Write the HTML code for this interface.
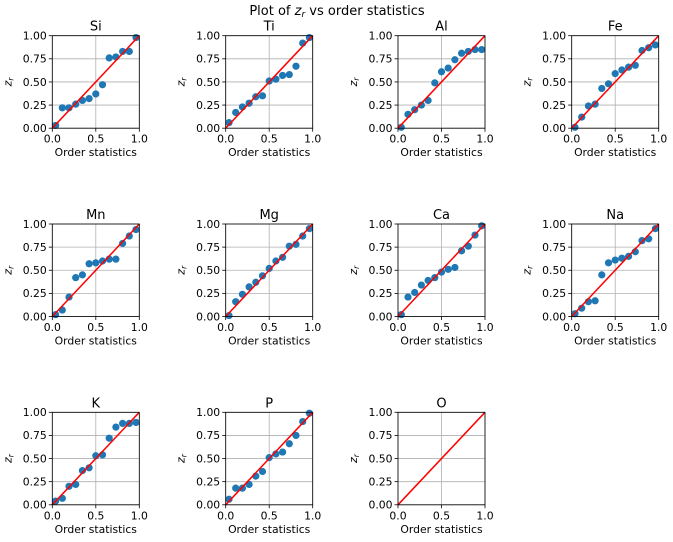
<!DOCTYPE html>
<html><head><meta charset="utf-8"><style>
html,body{margin:0;padding:0;background:#fff;}
svg{display:block;font-family:"DejaVu Sans","Liberation Sans",sans-serif;}
</style></head><body>
<svg id="fig" width="673" height="542" viewBox="0 0 673 542">
<text x="337" y="15" text-anchor="middle" font-size="13">Plot of <tspan font-style="italic">z</tspan><tspan font-style="italic" font-size="9" dy="2">r</tspan><tspan dy="-2"> vs order statistics</tspan></text>
</svg>
<script>
const panelNames = ["Si","Ti","Al","Fe","Mn","Mg","Ca","Na","K","P","O"];
const orderX = [0.038,0.115,0.192,0.269,0.346,0.423,0.5,0.577,0.654,0.731,0.808,0.885,0.962];
const siVals = [0.03,0.22,0.22,0.26,0.30,0.32,0.37,0.47,0.76,0.77,0.83,0.83,0.98];
const tiVals = [0.06,0.17,0.23,0.27,0.34,0.35,0.51,0.53,0.57,0.58,0.67,0.92,0.98];
const alVals = [0.01,0.15,0.20,0.25,0.30,0.49,0.61,0.65,0.74,0.81,0.83,0.85,0.85];
const feVals = [0.01,0.12,0.24,0.26,0.43,0.48,0.59,0.63,0.66,0.68,0.84,0.87,0.90];
const mnVals = [0.02,0.07,0.21,0.42,0.45,0.57,0.58,0.60,0.62,0.62,0.79,0.87,0.94];
const mgVals = [0.01,0.16,0.24,0.32,0.37,0.44,0.52,0.60,0.64,0.76,0.78,0.87,0.95];
const caVals = [0.02,0.21,0.26,0.34,0.39,0.42,0.48,0.51,0.53,0.71,0.76,0.88,0.98];
const naVals = [0.03,0.09,0.16,0.17,0.45,0.58,0.61,0.63,0.65,0.70,0.82,0.84,0.95];
const kVals  = [0.04,0.07,0.20,0.22,0.37,0.40,0.53,0.54,0.72,0.84,0.88,0.88,0.89];
const pVals  = [0.06,0.18,0.18,0.22,0.31,0.36,0.51,0.55,0.57,0.66,0.75,0.90,0.99];
const oVals  = [];
const xTickVals = [0,0.5,1];
const xTickLabels = ["0.0","0.5","1.0"];
const yTickVals = [0,0.25,0.5,0.75,1];
const yTickLabels = ["0.00","0.25","0.50","0.75","1.00"];

const series = [siVals,tiVals,alVals,feVals,mnVals,mgVals,caVals,naVals,kVals,pVals,oVals];
const colLeft = [52.3,225.7,398,571.7];
const rowTop = [35.7,224,412.3];
const W = 87, H = 92.5;
const NS = "http://www.w3.org/2000/svg";
const svg = document.getElementById("fig");
function mk(tag, attrs, parent){const e=document.createElementNS(NS,tag);for(const k in attrs)e.setAttribute(k,attrs[k]);(parent||svg).appendChild(e);return e;}

panelNames.forEach((name,idx)=>{
  const L = colLeft[idx%4], T = rowTop[Math.floor(idx/4)];
  const sx = v => L + v*W, sy = v => T + H - v*H;
  const g = mk("g",{});
  
  
  xTickVals.forEach(v=>{const l=mk("line",{x1:sx(v),x2:sx(v),y1:T,y2:T+H,stroke:"#b0b0b0","stroke-width":0.8},g);
    });
  yTickVals.forEach(v=>{const l=mk("line",{x1:L,x2:L+W,y1:sy(v),y2:sy(v),stroke:"#b0b0b0","stroke-width":0.8},g);
    });
  series[idx].forEach((v,i)=>{const c=mk("circle",{cx:sx(orderX[i]),cy:sy(v),r:3.6,fill:"#1f77b4"},g);
    });
  const rl=mk("line",{x1:sx(0),y1:sy(0),x2:sx(1),y2:sy(1),stroke:"red","stroke-width":1.5},g);
  
  const fr=mk("rect",{x:L,y:T,width:W,height:H,fill:"none",stroke:"#000","stroke-width":0.8},g);
  
  xTickVals.forEach((v,i)=>{mk("line",{x1:sx(v),x2:sx(v),y1:T+H,y2:T+H+3.5,stroke:"#000","stroke-width":0.8},g);
    const t=mk("text",{x:sx(v),y:T+H+14.5,"text-anchor":"middle","font-size":10.8},g);t.textContent=xTickLabels[i];
    });
  yTickVals.forEach((v,i)=>{mk("line",{x1:L-3.5,x2:L,y1:sy(v),y2:sy(v),stroke:"#000","stroke-width":0.8},g);
    const t=mk("text",{x:L-5.5,y:sy(v)+3.8,"text-anchor":"end","font-size":10.8},g);t.textContent=yTickLabels[i];
    });
  const title=mk("text",{x:L+W/2,y:T-5,"text-anchor":"middle","font-size":13},g);title.textContent=name;
  
  const xl=mk("text",{x:L+W/2,y:T+H+28,"text-anchor":"middle","font-size":10.8},g);xl.textContent="Order statistics";
  
  const yl=mk("text",{x:0,y:0,"text-anchor":"middle","font-size":11,"font-style":"italic",transform:`translate(${L-41},${T+H/2}) rotate(-90)`},g);
  yl.innerHTML='z<tspan font-size="7.5" dy="2">r</tspan>';
  
});
</script>
</body></html>
